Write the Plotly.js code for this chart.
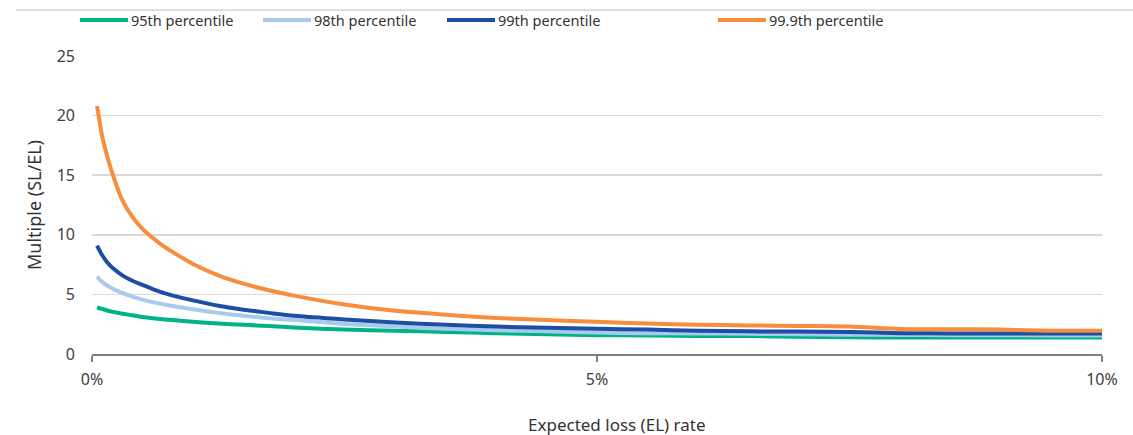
<!DOCTYPE html>
<html>
<head>
<meta charset="utf-8">
<script src="https://cdn.plot.ly/plotly-3.0.1.min.js"></script>
<style>html,body{margin:0;padding:0;background:#fff;}#chart{width:1133px;height:435px;}</style>
</head>
<body>
<div id="chart"></div>
<script>
// Expected loss (EL) rate, in %
const elRate = [0.05, 0.1, 0.15, 0.2, 0.3, 0.4, 0.5, 0.6, 0.7, 0.8, 1.0, 1.25, 1.5, 1.75, 2.0, 2.5, 3.0, 3.5, 4.0, 4.5, 5.0, 5.5, 6.0, 6.5, 7.0, 7.5, 8.0, 8.5, 9.0, 9.5, 10.0];
const seriesNames = ["95th percentile", "98th percentile", "99th percentile", "99.9th percentile"];
const p95  = [3.9, 3.78, 3.65, 3.55, 3.38, 3.25, 3.1, 3.0, 2.92, 2.85, 2.7, 2.55, 2.45, 2.35, 2.22, 2.05, 1.95, 1.85, 1.74, 1.66, 1.58, 1.55, 1.52, 1.5, 1.45, 1.4, 1.38, 1.38, 1.38, 1.38, 1.38];
const p98  = [6.5, 6.05, 5.75, 5.5, 5.12, 4.82, 4.56, 4.35, 4.17, 4.02, 3.75, 3.45, 3.2, 3.0, 2.85, 2.52, 2.3, 2.12, 2.0, 1.9, 1.8, 1.75, 1.72, 1.7, 1.65, 1.62, 1.6, 1.58, 1.58, 1.56, 1.55];
const p99  = [9.1, 8.3, 7.7, 7.25, 6.6, 6.15, 5.8, 5.45, 5.15, 4.9, 4.5, 4.05, 3.72, 3.45, 3.2, 2.9, 2.65, 2.45, 2.3, 2.2, 2.12, 2.05, 1.95, 1.9, 1.88, 1.85, 1.75, 1.72, 1.72, 1.72, 1.72];
const p999 = [20.8, 18.3, 16.6, 15.2, 12.9, 11.5, 10.5, 9.75, 9.1, 8.55, 7.55, 6.6, 5.9, 5.35, 4.9, 4.15, 3.62, 3.3, 3.02, 2.85, 2.7, 2.55, 2.45, 2.4, 2.35, 2.3, 2.1, 2.08, 2.05, 1.95, 1.95];
const xTickVals = [0, 5, 10];
const xTickText = ["0%", "5%", "10%"];
const yTickVals = [0, 5, 10, 15, 20, 25];

const colors = ["#00b386", "#a8caee", "#1d4ea3", "#f78d3d"];
const values = [p95, p98, p99, p999];
const FONT = "Noto Sans, Open Sans, sans-serif";

const traces = values.map((v, i) => ({
  x: elRate, y: v, name: seriesNames[i], type: "scatter", mode: "lines",
  line: {color: colors[i], width: 4, shape: "spline", smoothing: 0.7},
  showlegend: false, hoverinfo: "skip"
}));

// manual legend (line sample + label), positions in pixels converted to paper
const W = 1133, H = 435, ML = 92, MR = 31, MT = 56, MB = 80.5;
const pw = W - ML - MR, ph = H - MT - MB;
const px = x => (x - ML) / pw;
const py = y => (H - MB - y) / ph;
const legendStarts = [80, 263, 447, 718];
const shapes = [];
const annotations = [];
legendStarts.forEach((s, i) => {
  shapes.push({type: "line", xref: "paper", yref: "paper", x0: px(s), x1: px(s + 48), y0: py(20), y1: py(20),
    line: {color: colors[i], width: 4}});
  annotations.push({xref: "paper", yref: "paper", x: px(s + 49), y: py(20), xanchor: "left", yanchor: "middle",
    text: seriesNames[i], showarrow: false, font: {family: FONT, size: 14.5, color: "#333333"}});
});
// top rule
shapes.push({type: "line", xref: "paper", yref: "paper", x0: px(16), x1: px(1133), y0: py(10), y1: py(10),
  line: {color: "#bfbfbf", width: 1}});
// x title
annotations.push({xref: "paper", yref: "paper", x: px(617), y: py(425), xanchor: "center", yanchor: "middle",
  text: "Expected loss (EL) rate", showarrow: false, font: {family: FONT, size: 17, color: "#333333"}});

const layout = {
  width: W, height: H,
  margin: {l: ML, r: MR, t: MT, b: MB, pad: 0},
  paper_bgcolor: "#ffffff", plot_bgcolor: "#ffffff",
  font: {family: FONT, size: 16, color: "#404040"},
  showlegend: false,
  xaxis: {
    range: [0, 10], tickvals: xTickVals, ticktext: xTickText,
    showgrid: false, zeroline: false, showline: true, linecolor: "#7f7f7f", linewidth: 2,
    ticks: "outside", ticklen: 6, tickwidth: 2, tickcolor: "#7f7f7f", ticklabelstandoff: 4,
    tickfont: {family: FONT, size: 16, color: "#404040"}, fixedrange: true
  },
  yaxis: {
    range: [0, 25], tickvals: yTickVals,
    showgrid: true, gridcolor: "#d9d9d9", gridwidth: 1.5, zeroline: false, showline: false,
    ticks: "", ticklabelstandoff: 16,
    tickfont: {family: FONT, size: 16, color: "#404040"},
    title: {text: "Multiple (SL/EL)", font: {family: FONT, size: 18, color: "#333333"}, standoff: 10},
    fixedrange: true
  },
  shapes: shapes, annotations: annotations
};

Plotly.newPlot("chart", traces, layout, {displayModeBar: false, staticPlot: true});
</script>
</body>
</html>
